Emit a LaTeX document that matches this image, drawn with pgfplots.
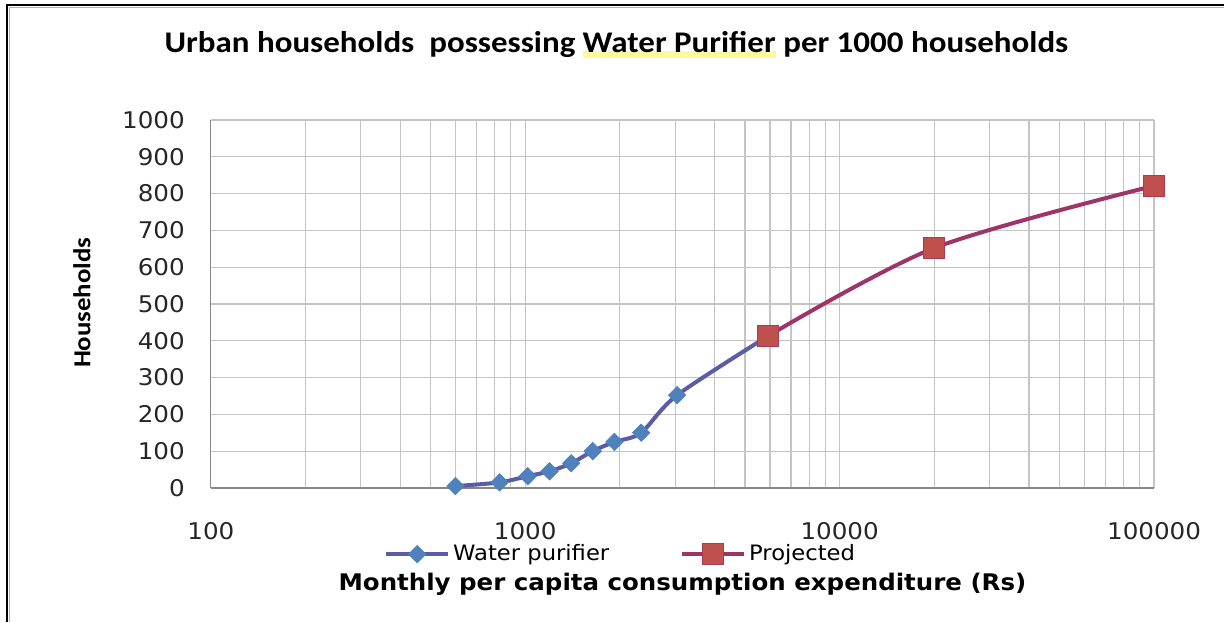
\documentclass[border=0pt]{standalone}
\usepackage{pgfplots}
\pgfplotsset{compat=1.18}
\usepackage{fontspec}
\setmainfont{DejaVu Sans}[FakeStretch=1.07]
\newfontfamily\carlito{Carlito}[FakeStretch=1.1]
\definecolor{gridc}{RGB}{196,196,196}
\definecolor{axc}{RGB}{134,134,134}
\definecolor{blueline}{RGB}{91,92,166}
\definecolor{bluemark}{RGB}{79,129,189}
\definecolor{redline}{RGB}{158,52,104}
\definecolor{redmark}{RGB}{192,80,77}
\definecolor{redborder}{RGB}{165,60,80}
\newsavebox\gbox
\newcommand\glow[1]{\sbox\gbox{#1}\rlap{\color{yellow!40}\rule[-0.16em]{\wd\gbox}{0.22em}}\usebox\gbox}
\begin{document}
\begin{tikzpicture}[x=0.5pt,y=0.5pt]
\path (0,0) rectangle (1225,622);
\draw[black,line width=1pt] (7,0) -- (7,617) -- (1225,617);
\draw[gray!60,line width=0.6pt] (9.5,0) -- (9.5,614.5) -- (1225,614.5);
\begin{axis}[
  at={(105.5pt,66.85pt)}, anchor=south west,
  scale only axis, width=472pt, height=184.15pt,
  xmode=log, xmin=100, xmax=100000, ymin=0, ymax=1000,
  xtick={100,1000,10000,100000},
  xticklabels={100,1000,10000,100000},
  minor xtick={200,300,400,500,600,700,800,900,2000,3000,4000,5000,6000,7000,8000,9000,20000,30000,40000,50000,60000,70000,80000,90000},
  ytick={0,100,...,1000},
  xmajorgrids, xminorgrids, ymajorgrids,
  grid style={gridc, line width=0.6pt},
  minor grid style={gridc, line width=0.6pt},
  major tick length=0pt, minor tick length=0pt,
  axis line style={gridc, line width=0.6pt},
  axis x line*=bottom, axis y line*=left,
  x axis line style={axc}, y axis line style={axc},
  tick label style={font=\fontsize{11.5}{13}\selectfont, text=black!85},
  /pgf/number format/assume math mode=true,
  /pgf/number format/1000 sep={},
  xticklabel style={yshift=-13.5pt},
  yticklabel style={xshift=-9.5pt},
  clip=false,
  legend columns=2,
  legend style={at={(0.435,-0.18)}, anchor=center, draw=none, fill=none,
    font=\fontsize{10.6}{12}\selectfont, column sep=0pt,
    nodes={inner xsep=1.5pt},
    /tikz/every even column/.append style={column sep=34pt}},
  legend image code/.code={
    \draw[#1, mark repeat=2, mark phase=2] plot coordinates {(0pt,0pt) (15.5pt,0pt) (31pt,0pt)};},
]
\addplot[blueline, line width=2pt, smooth, tension=0.5,
  mark=square*, mark size=3.1pt,
  mark options={rotate=45, fill=bluemark, draw=bluemark, line width=0.3pt}]
  coordinates {(600,5) (829,15) (1018,32) (1195,45) (1400,67) (1640,100) (1922,125) (2337,150) (3041,252) (5900,412)};
\addlegendentry{Water purifier}
\addplot[redline, line width=2pt, smooth, tension=0.5,
  mark=square*, mark size=5.2pt,
  mark options={fill=redmark, draw=redborder, line width=0.5pt}]
  coordinates {(5900,412) (20000,652) (100000,821)};
\addlegendentry{Projected}
\end{axis}
\node[font=\carlito\bfseries\fontsize{15}{18}\selectfont] at (617,577) {Urban households\ \ possessing \glow{Water Purifier} per 1000 households};
\node[font=\carlito\bfseries\fontsize{12.2}{15}\selectfont, rotate=90] at (82,319) {Households};
\node[font=\bfseries\fontsize{11.45}{13}\selectfont] at (683,37) {Monthly per capita consumption expenditure (Rs)};
\end{tikzpicture}
\end{document}
